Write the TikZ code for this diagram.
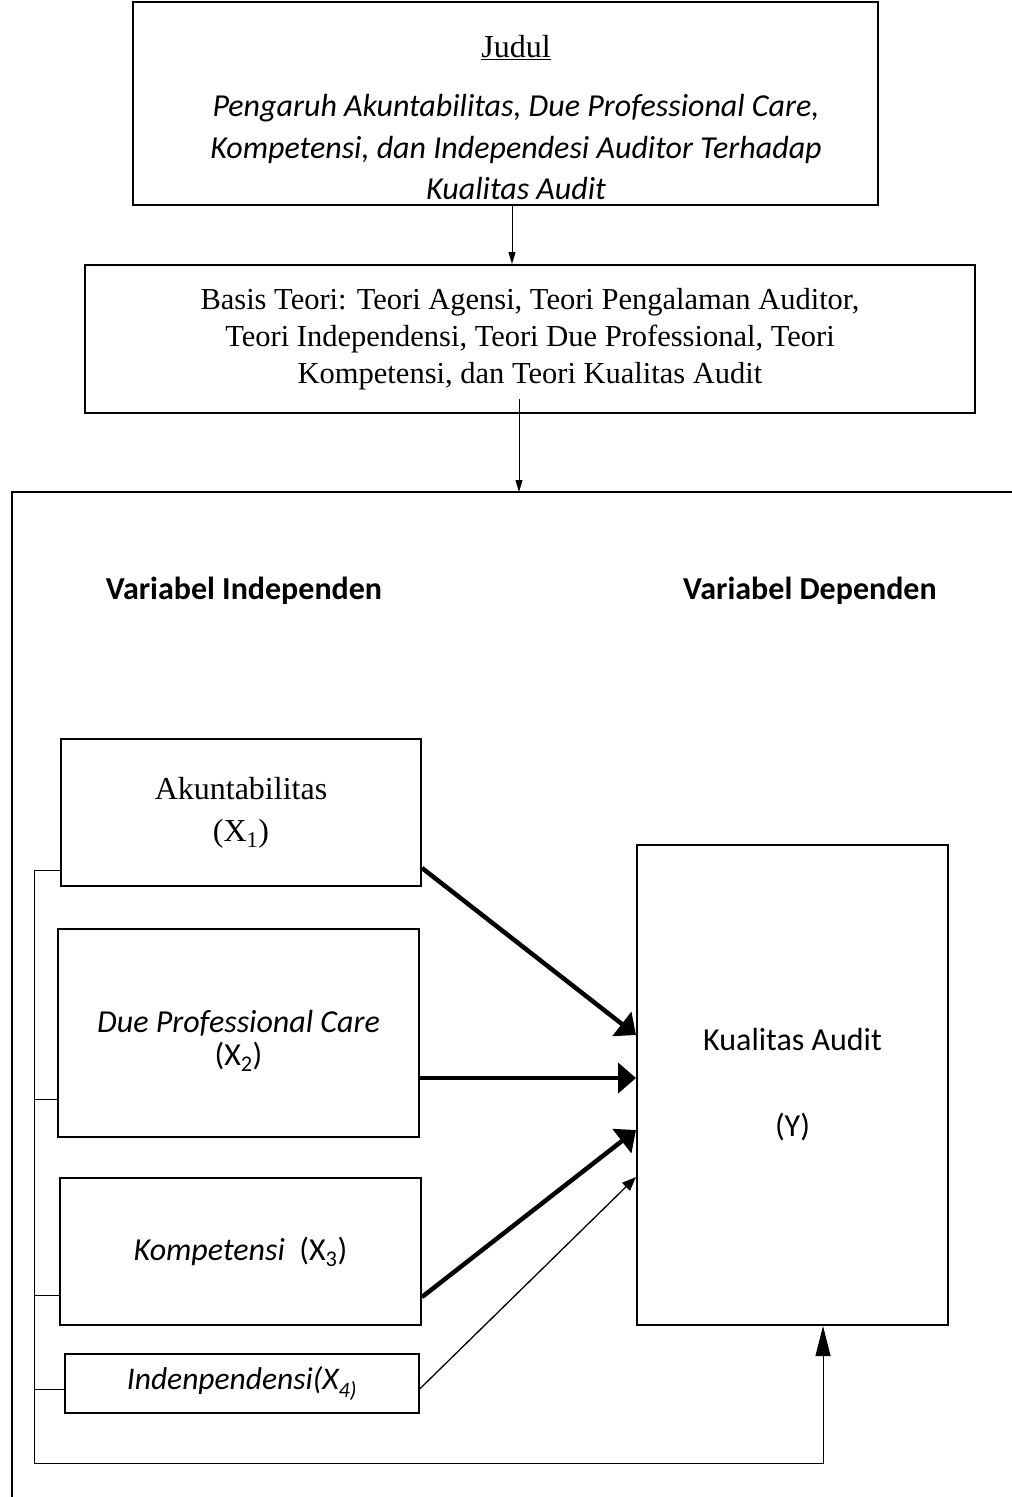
\documentclass[tikz,border=0pt]{standalone}
\usepackage{fontspec}
\setmainfont{Liberation Serif}
\newfontfamily\calibri{Carlito}
\usetikzlibrary{arrows.meta}

\newcommand{\calit}[1]{{\calibri\itshape #1}}

\tikzset{
  box/.style={draw, line width=2pt, inner sep=0pt, align=center},
  thinbox/.style={draw, line width=1.3pt, inner sep=0pt, align=center},
  link/.style={line width=1pt},
  bigarrow/.style={line width=4.5pt, -{Triangle[length=18pt,width=30pt]}},
  smallarrow/.style={line width=1.3pt, -{Triangle[length=14pt,width=11pt]}},
  flowarrow/.style={line width=1pt, -{Triangle[length=12pt,width=7pt]}},
  heading/.style={font=\calibri\bfseries\fontsize{32}{38}\selectfont}
}

\begin{document}
\begin{tikzpicture}[x=1pt,y=-1pt]
    \useasboundingbox (0,0) rectangle (1012,1497);

    % judul dan basis teori
    \node[box, minimum width=745pt, minimum height=203pt] (judul) at (505,103.5) {};
    \node[align=center, inner sep=0pt, font=\fontsize{32}{41.5}\selectfont] (judultext) at ([xshift=11pt,yshift=-14pt]judul.center)
        {\underline{Judul}\\[18pt]
         \calit{Pengaruh Akuntabilitas, Due Professional Care,}\\
         \calit{Kompetensi, dan Independesi Auditor Terhadap}\\
         \calit{Kualitas Audit}};
    \node[box, minimum width=890pt, minimum height=148pt, font=\fontsize{30.5}{37}\selectfont] (basis) at (530,339)
        {Basis Teori: Teori Agensi, Teori Pengalaman Auditor,\\
         Teori Independensi, Teori Due Professional, Teori\\
         Kompetensi, dan Teori Kualitas Audit};
    \draw[flowarrow] ([xshift=7pt]judul.south) -- ([xshift=-18pt]basis.north);

    % kerangka
    \coordinate (frame) at (12,492);
    \coordinate (frametop) at (519,492);
    \draw[line width=2.5pt] (12,1497) -- (frame) -- (1012,492);
    \draw[flowarrow] ([xshift=-11pt,yshift=15pt]basis.south) -- (frametop);

    \node[heading] (indhead) at (244,591) {Variabel Independen};
    \node[heading] (dephead) at (810,591) {Variabel Dependen};

    % variabel
    \node[box, minimum width=360pt, minimum height=147pt, font=\fontsize{32}{42}\selectfont] (akun) at (241,812.5)
        {Akuntabilitas\\(X\textsubscript{1})};
    \node[box, minimum width=361pt, minimum height=208pt] (dpc) at (238.5,1033) {};
    \node[align=center, inner sep=0pt, font=\calibri\fontsize{32}{33}\selectfont] (dpctext) at ([yshift=-8pt]dpc.center)
        {\textit{Due Professional Care}\\(X\textsubscript{2})};
    \node[box, minimum width=361pt, minimum height=147pt, font=\calibri\fontsize{32}{33}\selectfont] (komp) at (240.5,1251.5)
        {\textit{Kompetensi}\ \ (X\textsubscript{3})};
    \node[thinbox, minimum width=354pt, minimum height=59pt, font=\calibri\fontsize{31.5}{33}\selectfont] (indep) at (242,1383.5)
        {\textit{Indenpendensi(X\textsubscript{4)}}};
    \node[box, minimum width=311pt, minimum height=480pt, font=\calibri\fontsize{32}{33}\selectfont] (kual) at (792.5,1085)
        {Kualitas Audit\\[53pt](Y)};

    % panah
    \draw[bigarrow] ([yshift=-55.5pt]akun.east) -- ([yshift=50pt]kual.west);
    \draw[bigarrow] ([yshift=-45pt]dpc.east) -- ([yshift=7pt]kual.west);
    \draw[bigarrow] ([yshift=-45.5pt]komp.east) -- ([yshift=-45pt]kual.west);
    \draw[smallarrow] ([yshift=-5.5pt]indep.east) -- ([yshift=-92pt]kual.west);

    % garis simultan
    \coordinate (bustop) at (34,870);
    \coordinate (busbot) at (34,1463);
    \foreach \b/\s in {akun/-57.5, dpc/-66, komp/-43.5, indep/-5.5}
        \draw[link] (bustop) |- ([yshift=\s pt]\b.west);
    \draw[link, -{Triangle[length=30pt,width=15pt]}] (bustop) -- (busbot) -| ([xshift=30.5pt]kual.south);
\end{tikzpicture}
\end{document}
